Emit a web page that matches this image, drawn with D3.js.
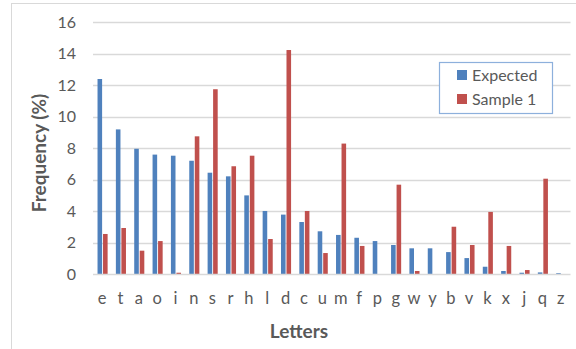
<!DOCTYPE html>
<html><head><meta charset="utf-8">
<script src="https://cdn.jsdelivr.net/npm/d3@7"></script>
<style>
html,body{margin:0;padding:0;background:#fff;}
svg{display:block;}
text{font-family:Lato,"Open Sans","Liberation Sans",sans-serif;}
</style></head>
<body>
<svg id="chart" width="576" height="349"></svg>
<script>
const letters = ["e","t","a","o","i","n","s","r","h","l","d","c","u","m","f","p","g","w","y","b","v","k","x","j","q","z"];
const expected = [12.4,9.2,7.97,7.6,7.53,7.21,6.45,6.22,5.01,4.02,3.79,3.32,2.73,2.5,2.32,2.11,1.86,1.65,1.65,1.41,1.03,0.48,0.21,0.1,0.12,0.07];
const sample1 = [2.56,2.94,1.5,2.11,0.1,8.76,11.75,6.86,7.53,2.24,14.24,4.02,1.35,8.3,1.8,0,5.69,0.21,0,3.02,1.86,3.96,1.8,0.27,6.07,0];
const yTicks = [0,2,4,6,8,10,12,14,16];
const seriesNames = ["Expected","Sample 1"];
const colors = ["#4F81BD","#C0504D"];

const svg = d3.select("#chart");
// chart area border
svg.append("rect").attr("x",11.5).attr("y",3.5).attr("width",600).attr("height",400)
  .attr("fill","#fff").attr("stroke","#D9D9D9");

const x = d3.scaleBand().domain(letters).range([93,570]).padding(0);
const y = d3.scaleLinear().domain([0,16]).range([274.3,22.3]);

// gridlines
svg.append("g").selectAll("line").data(yTicks.filter(t=>t>0)).join("line")
  .attr("x1",93).attr("x2",570.5)
  .attr("y1",d=>Math.round(y(d))+0.5).attr("y2",d=>Math.round(y(d))+0.5)
  .attr("stroke","#D9D9D9").attr("stroke-width",1.3);

// y axis labels (axis generator, hide domain/ticks)
const yAxis = svg.append("g").attr("transform","translate(80,0)")
  .call(d3.axisLeft(y).tickValues(yTicks).tickSize(0).tickPadding(4));
yAxis.select(".domain").remove();
yAxis.selectAll("text").attr("font-size",16).attr("fill","#595959")
  .style("font-family","Lato,'Open Sans',sans-serif");

const bw = x.bandwidth()*0.25, gap = x.bandwidth()*0.05;
const bars = svg.append("g");
bars.selectAll("rect.e").data(letters).join("rect").attr("class","e")
  .attr("x",(d)=>x(d)+x.bandwidth()/2 + 0.4 - gap/2 - bw)
  .attr("width",bw)
  .attr("y",(d,i)=>y(expected[i]))
  .attr("height",(d,i)=>y(0)-y(expected[i]))
  .attr("fill",colors[0]);
bars.selectAll("rect.s").data(letters).join("rect").attr("class","s")
  .attr("x",(d)=>x(d)+x.bandwidth()/2 + 0.4 + gap/2)
  .attr("width",bw)
  .attr("y",(d,i)=>y(sample1[i]))
  .attr("height",(d,i)=>y(0)-y(sample1[i]))
  .attr("fill",colors[1]);

// x axis line
svg.append("line").attr("x1",93).attr("x2",570.5)
  .attr("y1",Math.round(y(0))+0.5).attr("y2",Math.round(y(0))+0.5)
  .attr("stroke","#D9D9D9").attr("stroke-width",1.3);

// x axis labels
const xAxis = svg.append("g").attr("transform","translate(0,292)")
  .call(d3.axisBottom(x).tickSize(0).tickPadding(0));
xAxis.select(".domain").remove();
xAxis.selectAll("text").attr("font-size",16.5).attr("fill","#595959")
  .style("font-family","Lato,'Open Sans',sans-serif");

// axis titles
svg.append("text").attr("x",299).attr("y",338).attr("text-anchor","middle")
  .attr("font-size",19).attr("font-weight","bold").attr("fill","#595959").text("Letters");
svg.append("text").attr("transform","translate(46,153) rotate(-90)").attr("text-anchor","middle")
  .attr("font-size",19).attr("font-weight","bold").attr("fill","#595959").text("Frequency (%)");

// legend
const lg = svg.append("g");
lg.append("rect").attr("x",439.5).attr("y",62.5).attr("width",113).attr("height",51)
  .attr("fill","#fff").attr("stroke","#8DB0DC").attr("stroke-width",1.2);
seriesNames.forEach((n,i)=>{
  const cy = 75 + i*24;
  lg.append("rect").attr("x",457).attr("y",cy-5).attr("width",10).attr("height",10).attr("fill",colors[i]);
  lg.append("text").attr("x",472).attr("y",cy).attr("dy","0.35em")
    .attr("font-size",16).attr("fill","#595959").text(n);
});
</script>
</body></html>
